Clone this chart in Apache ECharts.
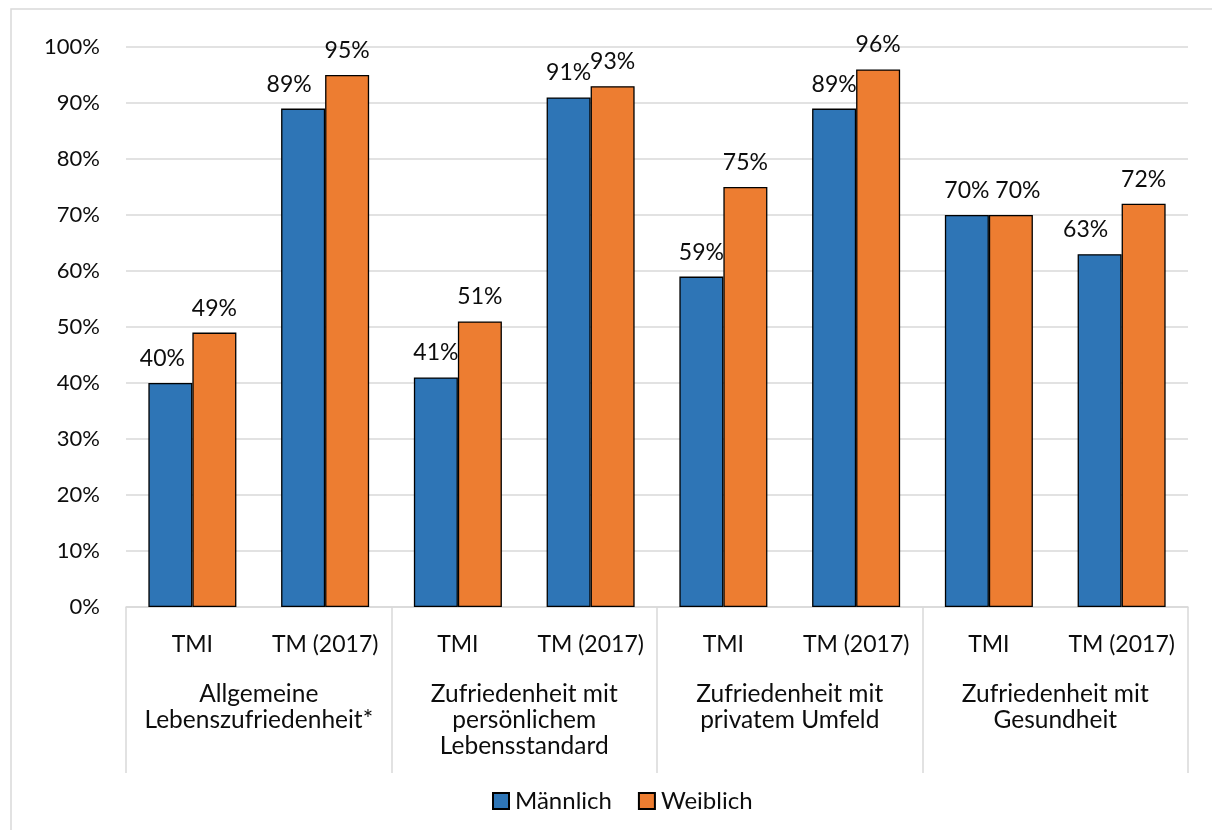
<!DOCTYPE html>
<html>
<head>
<meta charset="utf-8">
<script src="https://cdn.jsdelivr.net/npm/echarts@6/dist/echarts.min.js"></script>
<style>
  html, body { margin: 0; padding: 0; background: #fff; }
  #chart { width: 1212px; height: 830px; }
</style>
</head>
<body>
<div id="chart"></div>
<script>
// Survey categories (outer level) and sample labels (inner level)
const groups = [
  'Allgemeine\nLebenszufriedenheit*',
  'Zufriedenheit mit\npersönlichem\nLebensstandard',
  'Zufriedenheit mit\nprivatem Umfeld',
  'Zufriedenheit mit\nGesundheit'
];
const samples = ['TMI', 'TM (2017)'];
const categories = groups.flatMap(() => samples);

// Share of satisfied respondents in percent
const maennlich = [40, 89, 41, 91, 59, 89, 70, 63];
const weiblich  = [49, 95, 51, 93, 75, 96, 70, 72];

const seriesNames = ['Männlich', 'Weiblich'];
const colors = ['#2E75B6', '#ED7D31'];

// Value labels that would collide with a neighbour are nudged sideways
const labelNudge = [
  { 0: -8, 1: -14, 7: -14 },
  { 6: 7 }
];

const FONT = 'Lato';
const TEXT = '#0d0d0d';
const GRIDLINE = '#d9d9d9';

const chart = echarts.init(document.getElementById('chart'), null, { renderer: 'canvas' });

const barSeries = (idx, data) => ({
  name: seriesNames[idx],
  type: 'bar',
  data: data.map((v, i) => {
    const dx = labelNudge[idx][i];
    return dx ? { value: v, label: { offset: [dx, 0] } } : v;
  }),
  xAxisIndex: 0,
  barGap: '0%',
  barCategoryGap: '33.7%',
  itemStyle: { color: colors[idx], borderColor: '#000', borderWidth: 1.3 },
  label: {
    show: true,
    position: 'top',
    distance: 13,
    formatter: '{c}%',
    fontFamily: FONT,
    fontSize: 23,
    color: TEXT
  }
});

chart.setOption({
  animation: false,
  backgroundColor: '#fff',
  textStyle: { fontFamily: FONT },
  graphic: [{
    type: 'rect',
    shape: { x: 11, y: 9, width: 1240, height: 860 },
    style: { fill: 'none', stroke: GRIDLINE, lineWidth: 1.5 },
    silent: true,
    z: -10
  }],
  legend: {
    data: seriesNames,
    left: 487,
    top: 784,
    itemWidth: 16,
    itemHeight: 16,
    itemGap: 26,
    icon: 'rect',
    textStyle: { fontFamily: FONT, fontSize: 24, color: TEXT, padding: [0, 0, 0, 1] }
  },
  grid: { left: 126, right: 24, top: 47, bottom: 223, containLabel: false },
  xAxis: [
    {
      type: 'category',
      data: categories,
      position: 'bottom',
      axisLine: { show: true, lineStyle: { color: GRIDLINE, width: 1.5 } },
      axisTick: { show: false },
      axisLabel: {
        interval: 0,
        margin: 25,
        fontFamily: FONT,
        fontSize: 23,
        lineHeight: 26,
        color: TEXT
      }
    },
    {
      type: 'category',
      data: groups,
      position: 'bottom',
      axisLine: { show: false },
      axisTick: {
        show: true,
        length: 166,
        lineStyle: { color: GRIDLINE, width: 1.5 }
      },
      axisLabel: {
        interval: 0,
        margin: 74,
        fontFamily: FONT,
        fontSize: 24.5,
        lineHeight: 26,
        verticalAlign: 'top',
        color: TEXT
      }
    }
  ],
  yAxis: {
    type: 'value',
    min: 0,
    max: 100,
    interval: 10,
    axisLine: { show: false },
    axisTick: { show: false },
    splitLine: { lineStyle: { color: GRIDLINE, width: 1.5 } },
    axisLabel: {
      formatter: '{value}%',
      margin: 26,
      fontFamily: FONT,
      fontSize: 22,
      color: TEXT
    }
  },
  series: [
    barSeries(0, maennlich),
    barSeries(1, weiblich)
  ]
});
</script>
</body>
</html>
